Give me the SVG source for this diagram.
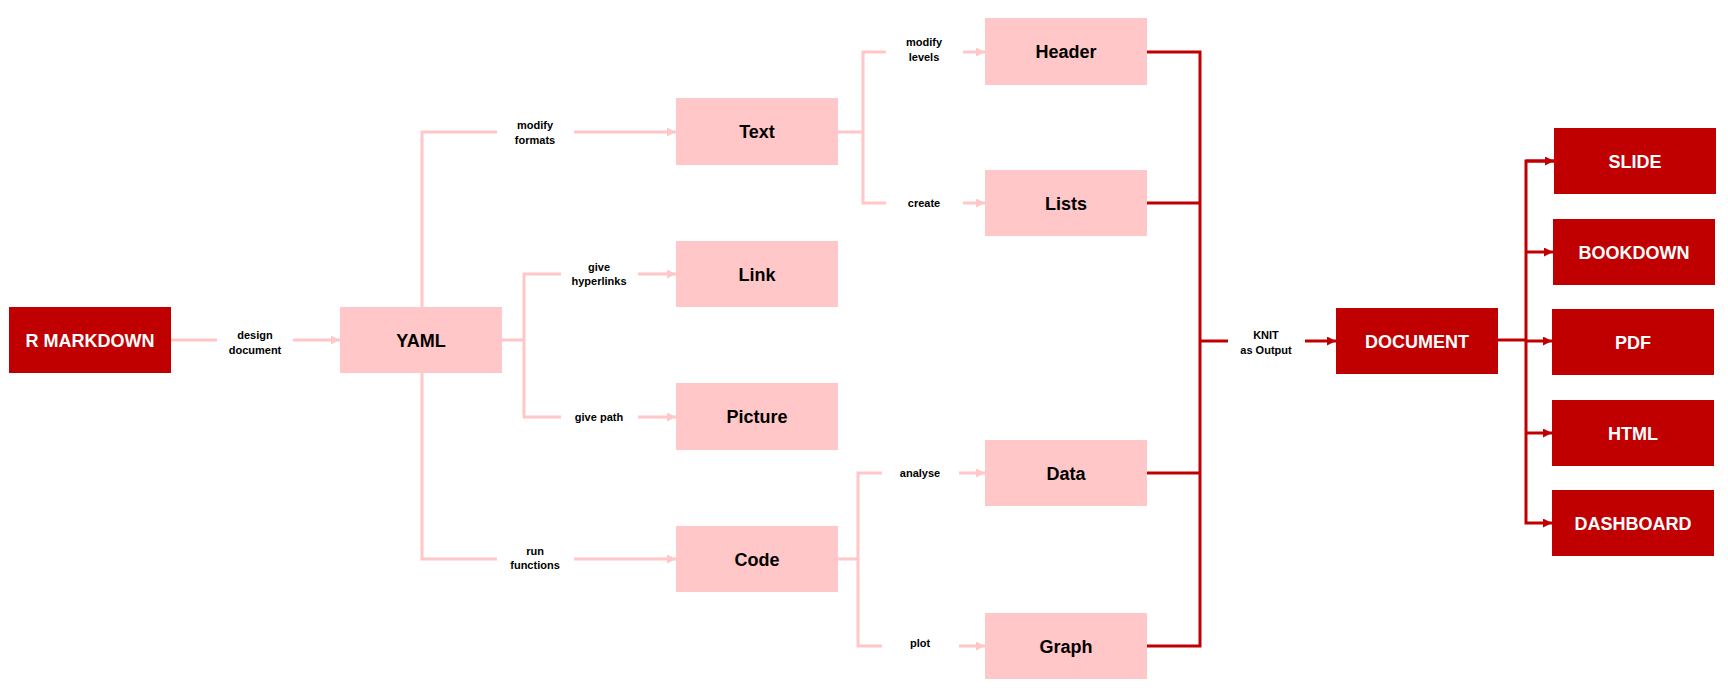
<svg xmlns="http://www.w3.org/2000/svg" width="1728" height="700" viewBox="0 0 1728 700">
<defs>
<style>
.red{fill:#C00000}
.pink{fill:#FFC7C7}
.nt{font-family:"Liberation Sans",Arial,sans-serif;font-weight:bold;font-size:18px;text-anchor:middle}
.wt{fill:#FFFFFF}
.bt{fill:#000000}
.lb{font-family:"Liberation Sans",Arial,sans-serif;font-weight:bold;font-size:11px;text-anchor:middle;fill:#000000}
.pl{fill:none;stroke:#FFC7C7;stroke-width:3}
.rl{fill:none;stroke:#C00000;stroke-width:3}
</style>
<marker id="ap" markerUnits="userSpaceOnUse" markerWidth="9" markerHeight="9" refX="9" refY="4.5" orient="auto">
<path d="M0,0 L9,4.5 L0,9 z" fill="#FFC7C7"/>
</marker>
<marker id="ar" markerUnits="userSpaceOnUse" markerWidth="9" markerHeight="9" refX="9" refY="4.5" orient="auto">
<path d="M0,0 L9,4.5 L0,9 z" fill="#C00000"/>
</marker>
</defs>
<rect width="1728" height="700" fill="#FFFFFF"/>

<g id="connectors">
<!-- pink -->
<path class="pl" d="M171,340 H217"/>
<path class="pl" d="M293,340 H340" marker-end="url(#ap)"/>
<path class="pl" d="M422,307 V132 H497"/>
<path class="pl" d="M574,132 H676" marker-end="url(#ap)"/>
<path class="pl" d="M422,373 V559 H497"/>
<path class="pl" d="M574,559 H676" marker-end="url(#ap)"/>
<path class="pl" d="M502,340 H524"/>
<path class="pl" d="M561,274 H524 V417 H561"/>
<path class="pl" d="M638,274 H676" marker-end="url(#ap)"/>
<path class="pl" d="M638,417 H676" marker-end="url(#ap)"/>
<path class="pl" d="M838,132 H863"/>
<path class="pl" d="M886,52 H863 V203 H886"/>
<path class="pl" d="M963,52 H985" marker-end="url(#ap)"/>
<path class="pl" d="M963,203 H985" marker-end="url(#ap)"/>
<path class="pl" d="M838,559 H858"/>
<path class="pl" d="M882,473 H858 V646 H882"/>
<path class="pl" d="M959,473 H985" marker-end="url(#ap)"/>
<path class="pl" d="M959,646 H985" marker-end="url(#ap)"/>
<!-- red -->
<path class="rl" d="M1147,52 H1200 V646 H1147"/>
<path class="rl" d="M1147,203 H1200"/>
<path class="rl" d="M1147,473 H1200"/>
<path class="rl" d="M1200,341 H1228"/>
<path class="rl" d="M1305,341 H1336" marker-end="url(#ar)"/>
<path class="rl" d="M1498,340 H1526"/>
<path class="rl" d="M1554,161 H1526 V523 H1552" marker-end="url(#ar)"/>
<path class="rl" d="M1526,161 H1554" marker-end="url(#ar)"/>
<path class="rl" d="M1526,252 H1553" marker-end="url(#ar)"/>
<path class="rl" d="M1526,341 H1552" marker-end="url(#ar)"/>
<path class="rl" d="M1526,433 H1552" marker-end="url(#ar)"/>
<!-- labels -->
<text class="lb" x="255" y="339">design</text>
<text class="lb" x="255" y="354">document</text>
<text class="lb" x="535" y="129">modify</text>
<text class="lb" x="535" y="144">formats</text>
<text class="lb" x="599" y="270.5">give</text>
<text class="lb" x="599" y="285">hyperlinks</text>
<text class="lb" x="599" y="420.5">give path</text>
<text class="lb" x="535" y="554.5">run</text>
<text class="lb" x="535" y="569">functions</text>
<text class="lb" x="924" y="46">modify</text>
<text class="lb" x="924" y="61">levels</text>
<text class="lb" x="924" y="207">create</text>
<text class="lb" x="920" y="477">analyse</text>
<text class="lb" x="920" y="647">plot</text>
<text class="lb" x="1266" y="339">KNIT</text>
<text class="lb" x="1266" y="354">as Output</text>
</g>

<g id="rmarkdown"><rect class="red" x="9" y="307" width="162" height="66"/><text class="nt wt" x="90" y="346.5">R MARKDOWN</text></g>
<g id="yaml"><rect class="pink" x="340" y="307" width="162" height="66"/><text class="nt bt" x="421" y="346.5">YAML</text></g>
<g id="text"><rect class="pink" x="676" y="98" width="162" height="67"/><text class="nt bt" x="757" y="138">Text</text></g>
<g id="link"><rect class="pink" x="676" y="241" width="162" height="66"/><text class="nt bt" x="757" y="280.5">Link</text></g>
<g id="picture"><rect class="pink" x="676" y="383" width="162" height="67"/><text class="nt bt" x="757" y="423">Picture</text></g>
<g id="code"><rect class="pink" x="676" y="526" width="162" height="66"/><text class="nt bt" x="757" y="565.5">Code</text></g>
<g id="header"><rect class="pink" x="985" y="18" width="162" height="67"/><text class="nt bt" x="1066" y="58">Header</text></g>
<g id="lists"><rect class="pink" x="985" y="170" width="162" height="66"/><text class="nt bt" x="1066" y="209.5">Lists</text></g>
<g id="data"><rect class="pink" x="985" y="440" width="162" height="66"/><text class="nt bt" x="1066" y="479.5">Data</text></g>
<g id="graph"><rect class="pink" x="985" y="613" width="162" height="66"/><text class="nt bt" x="1066" y="652.5">Graph</text></g>
<g id="document"><rect class="red" x="1336" y="308" width="162" height="66"/><text class="nt wt" x="1417" y="347.5">DOCUMENT</text></g>
<g id="slide"><rect class="red" x="1554" y="128" width="162" height="66"/><text class="nt wt" x="1635" y="167.5">SLIDE</text></g>
<g id="bookdown"><rect class="red" x="1553" y="219" width="162" height="66"/><text class="nt wt" x="1634" y="258.5">BOOKDOWN</text></g>
<g id="pdf"><rect class="red" x="1552" y="309" width="162" height="66"/><text class="nt wt" x="1633" y="348.5">PDF</text></g>
<g id="html"><rect class="red" x="1552" y="400" width="162" height="66"/><text class="nt wt" x="1633" y="439.5">HTML</text></g>
<g id="dashboard"><rect class="red" x="1552" y="490" width="162" height="66"/><text class="nt wt" x="1633" y="529.5">DASHBOARD</text></g>
</svg>
